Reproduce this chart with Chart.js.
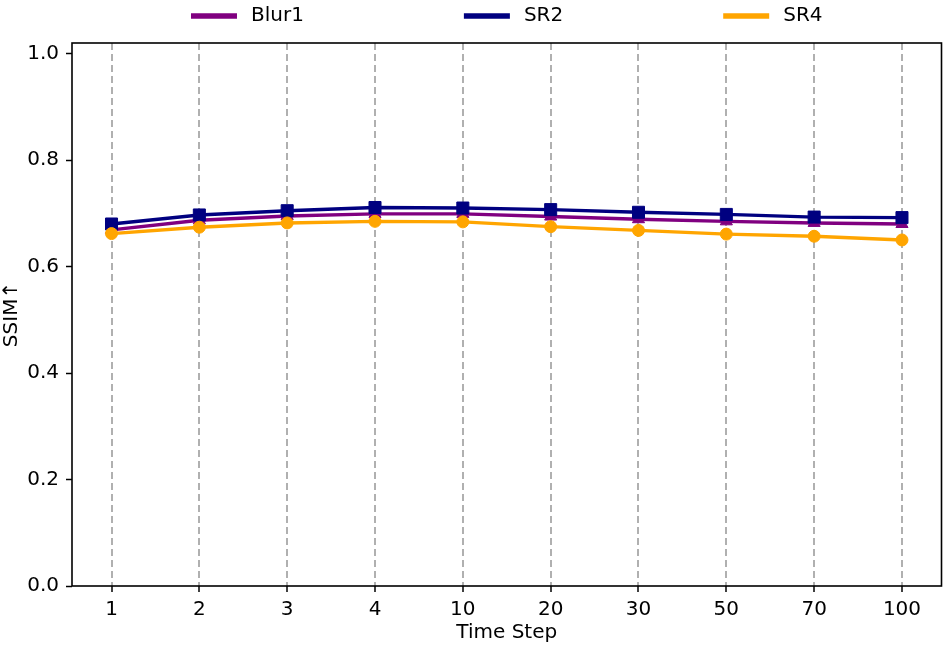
<!DOCTYPE html>
<html>
<head>
<meta charset="utf-8">
<script src="https://cdn.jsdelivr.net/npm/chart.js@4.4.1/dist/chart.umd.min.js"></script>
<style>
  html, body { margin: 0; padding: 0; background: #fff; }
  #wrap { width: 951px; height: 648px; }
</style>
</head>
<body>
<div id="wrap"><canvas id="c" width="951" height="648"></canvas></div>
<script>
const timeSteps = ['1', '2', '3', '4', '10', '20', '30', '50', '70', '100'];
const blur1 = [0.669, 0.687, 0.695, 0.699, 0.699, 0.694, 0.689, 0.685, 0.682, 0.680];
const sr2   = [0.680, 0.697, 0.705, 0.711, 0.710, 0.707, 0.702, 0.698, 0.693, 0.692];
const sr4   = [0.662, 0.674, 0.682, 0.685, 0.684, 0.675, 0.668, 0.661, 0.657, 0.650];
const yTicks = [0.0, 0.2, 0.4, 0.6, 0.8, 1.0];
const seriesNames = ['Blur1', 'SR2', 'SR4'];
const seriesColors = ['#800080', '#000080', '#FFA500'];

const FONT = 'DejaVu Sans';
const FS = 20;

function toPoints(arr) { return arr.map((v, i) => ({ x: i, y: v })); }

const legendPlugin = {
  id: 'mplLegend',
  afterDraw(chart) {
    const ctx = chart.ctx;
    const ca = chart.chartArea;
    ctx.save();
    ctx.font = FS + 'px "' + FONT + '"';
    const handle = 46, gap = 14, colSp = 160;
    const widths = seriesNames.map(n => ctx.measureText(n).width);
    let total = 0;
    widths.forEach(w => { total += handle + gap + w; });
    total += colSp * (seriesNames.length - 1);
    let x = (ca.left + ca.right) / 2 - total / 2;
    const y = 16;
    seriesNames.forEach((n, i) => {
      ctx.strokeStyle = seriesColors[i];
      ctx.lineWidth = 5.5;
      ctx.beginPath();
      ctx.moveTo(x, y);
      ctx.lineTo(x + handle, y);
      ctx.stroke();
      ctx.fillStyle = '#000';
      ctx.textBaseline = 'middle';
      ctx.textAlign = 'left';
      ctx.fillText(n, x + handle + gap, y);
      x += handle + gap + widths[i] + colSp;
    });
    ctx.restore();
  }
};

const framePlugin = {
  id: 'frame',
  afterDatasetsDraw(chart) {
    const ctx = chart.ctx;
    const ca = chart.chartArea;
    ctx.save();
    ctx.strokeStyle = '#000';
    ctx.lineWidth = 1.6;
    ctx.strokeRect(ca.left, ca.top, ca.right - ca.left, ca.bottom - ca.top);
    ctx.restore();
  }
};

const markerStyles = ['triangle', 'rect', 'circle'];
const markerRadius = [7, 8.5, 6];
const orders = [3, 2, 1];
const seriesData = [blur1, sr2, sr4];

new Chart(document.getElementById('c'), {
  type: 'line',
  data: {
    datasets: seriesNames.map((n, i) => ({
      label: n,
      data: toPoints(seriesData[i]),
      borderColor: seriesColors[i],
      backgroundColor: seriesColors[i],
      borderWidth: 3.4,
      pointStyle: markerStyles[i],
      pointRadius: markerRadius[i],
      pointHoverRadius: markerRadius[i],
      pointBorderWidth: 1,
      pointBorderColor: seriesColors[i],
      pointBackgroundColor: seriesColors[i],
      tension: 0,
      fill: false,
      order: orders[i]
    }))
  },
  options: {
    responsive: false,
    animation: false,
    events: [],
    layout: { padding: { top: 43, right: 9.5, left: 0, bottom: 0 } },
    plugins: {
      legend: { display: false },
      tooltip: { enabled: false },
      title: { display: false }
    },
    scales: {
      x: {
        type: 'linear',
        min: -0.45,
        max: 9.45,
        afterBuildTicks(scale) {
          scale.ticks = timeSteps.map((t, i) => ({ value: i }));
        },
        afterFit(scale) { scale.height = 62; },
        ticks: {
          autoSkip: false,
          maxRotation: 0,
          padding: 6,
          color: '#000',
          font: { family: FONT, size: FS },
          callback: (v) => timeSteps[v]
        },
        grid: {
          display: true,
          drawOnChartArea: true,
          drawTicks: true,
          color: '#b0b0b0',
          lineWidth: 2,
          tickColor: '#000',
          tickWidth: 1.5,
          tickLength: 6
        },
        border: { display: false, dash: [7, 4] },
        title: {
          display: true,
          text: 'Time Step',
          color: '#000',
          font: { family: FONT, size: FS },
          padding: { top: 0, bottom: 3 }
        }
      },
      y: {
        type: 'linear',
        min: 0,
        max: 1.02,
        afterBuildTicks(scale) {
          scale.ticks = yTicks.map(v => ({ value: v }));
        },
        afterFit(scale) { scale.width = 72; },
        ticks: {
          padding: 7,
          color: '#000',
          font: { family: FONT, size: FS },
          callback: (v) => Number(v).toFixed(1)
        },
        grid: {
          display: true,
          drawOnChartArea: false,
          drawTicks: true,
          tickColor: '#000',
          tickWidth: 1.5,
          tickLength: 6
        },
        border: { display: false },
        title: {
          display: true,
          text: 'SSIM↑',
          color: '#000',
          font: { family: FONT, size: FS },
          padding: { top: 0, bottom: 0 }
        }
      }
    }
  },
  plugins: [legendPlugin, framePlugin]
});
</script>
</body>
</html>
